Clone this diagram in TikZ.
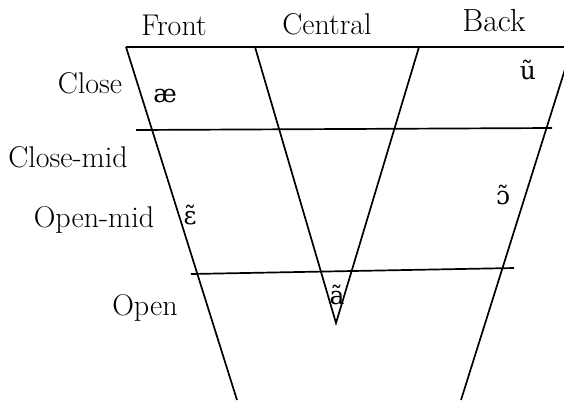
\documentclass[tikz,border=0pt]{standalone}
\usepackage{fontspec}
\newfontfamily\ipafont{DejaVu Serif}
\usetikzlibrary{positioning}

\begin{document}
\begin{tikzpicture}[
    x=1pt, y=-1pt,
    every node/.style={inner sep=0pt},
]

% ================================================================
%  Vowel chart, drawn in pixel units (y runs downward).
%  Outer trapezoid: top edge y = 47, sides slope ~0.31.
%  Central column is a V whose apex sits just under the open row.
%  Two row rules, each slightly tilted up to the right.
% ================================================================

\tikzset{
  rule/.style={draw=black, line width=1.7pt},
  colname/.style={font=\fontsize{30}{34}\selectfont},
  rowname/.style={font=\fontsize{30}{34}\selectfont},
  vowel/.style={font=\ipafont\fontsize{25}{29}\selectfont},
}

\useasboundingbox (0,0) rectangle (564,400);

% ---------------------------------------------------------------- corners
\coordinate (tl) at (126,47);
\coordinate (tr) at (572,47);
\coordinate (bl) at (237,400);
\coordinate (br) at (461,400);
\coordinate (cl) at (255,47);
\coordinate (cr) at (419,47);
\coordinate (apex) at (336,323);
\coordinate (r1w) at (136,130);
\coordinate (r1e) at (552,128);
\coordinate (r2w) at (191,274);
\coordinate (r2e) at (514,268);

% ---------------------------------------------------------------- rules
\draw[rule] (tl) -- (tr);
\draw[rule] (tl) -- (bl);
\draw[rule] (tr) -- (br);
\draw[rule] (cl) -- (apex) -- (cr);
\draw[rule] (r1w) -- (r1e);
\draw[rule] (r2w) -- (r2e);

% ---------------------------------------------------------------- columns
\node[colname] (front) at (174,25) {Front};
\node[colname] (central) at (327,24) {Central};
\node[colname, font=\fontsize{32}{36}\selectfont] (back) at (494,21) {Back};

% ---------------------------------------------------------------- rows
\node[rowname] (close) at (90,83) {Close};
\node[rowname] (closemid) at (68,157) {Close-mid};
\node[rowname] (openmid) at (94,220) {Open-mid};
\node[rowname] (open) at (145,308) {Open};

% ---------------------------------------------------------------- vowels
\node[vowel] (ae) at (165,96) {æ};
\node[vowel] (u) at (528,70) {ũ};
\node[vowel] (oo) at (503,195) {ɔ̃};
\node[vowel] (ee) at (190,215) {ɛ̃};
\node[vowel] (a) at (337,295) {ã};

\end{tikzpicture}
\end{document}
